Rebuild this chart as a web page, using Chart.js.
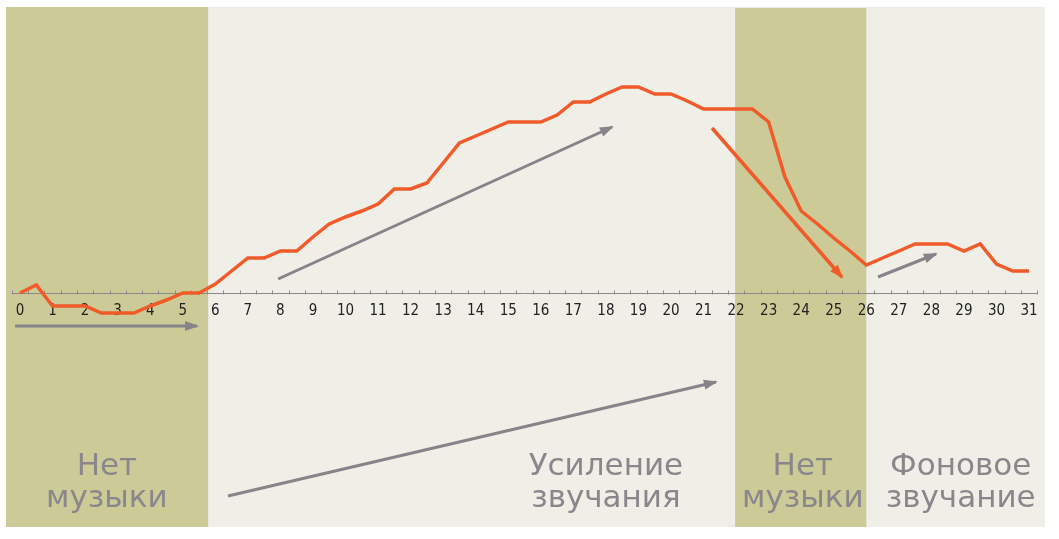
<!DOCTYPE html>
<html>
<head>
<meta charset="utf-8">
<script src="https://cdn.jsdelivr.net/npm/chart.js@4/dist/chart.umd.min.js"></script>
<style>
  html, body { margin: 0; padding: 0; background: #ffffff; }
  #wrap { width: 1059px; height: 539px; }
</style>
</head>
<body>
<div id="wrap"><canvas id="chart" width="1059" height="539"></canvas></div>
<script>
// Время (секунды) и уровень звучания
const timePoints = [0, 0.5, 1, 1.5, 2, 2.5, 3, 3.5, 4, 4.5, 5, 5.5, 6, 6.5, 7, 7.5, 8, 8.5, 9, 9.5,
    10, 10.5, 11, 11.5, 12, 12.5, 13, 13.5, 14, 14.5, 15, 15.5, 16, 16.5, 17, 17.5, 18, 18.5, 19, 19.5,
    20, 20.5, 21, 21.5, 22, 22.5, 23, 23.5, 24, 24.5, 25, 25.5, 26, 26.5, 27, 27.5, 28, 28.5, 29, 29.5,
    30, 30.5, 31];
const soundLevel = [0, 8, -13, -13, -13, -20, -20, -20, -13, -7, 0, 0, 9, 22, 35, 35, 42, 42, 56, 69,
    76, 82, 89, 104, 104, 110, 130, 150, 157, 164, 171, 171, 171, 178, 191, 191, 199, 206, 206, 199,
    199, 192, 184, 184, 184, 184, 171, 116, 82, 69, 55, 42, 28, 35, 42, 49, 49, 49, 42, 49,
    29, 22, 22];

// Подписи оси
const tickValues = [0, 1, 2, 3, 4, 5, 6, 7, 8, 9, 10, 11, 12, 13, 14, 15, 16, 17, 18, 19, 20,
    21, 22, 23, 24, 25, 26, 27, 28, 29, 30, 31];
const tickLabels = ['0', '1', '2', '3', '4', '5', '6', '7', '8', '9', '10', '11', '12', '13', '14', '15',
    '16', '17', '18', '19', '20', '21', '22', '23', '24', '25', '26', '27', '28', '29', '30', '31'];

// Участки без музыки (начало, конец)
const silentStart = [-0.43, 21.97];
const silentEnd = [5.78, 26];

// Подписи участков
const sectionNames = [['Нет', 'музыки'], ['Усиление', 'звучания'], ['Нет', 'музыки'], ['Фоновое', 'звучание']];
const sectionCenters = [2.67, 18.0, 24.05, 28.9];

// Стрелки: [x0, y0, x1, y1]
const grayArrows = [
    [-0.15, -33, 5.44, -33],
    [7.93, 14, 18.19, 166],
    [6.39, -203, 21.38, -89],
    [26.36, 16, 28.14, 39]
];
const orangeArrow = [21.26, 165, 25.25, 16];

const ORANGE = '#f15a29';
const GRAY = '#868489';
const TEXT_GRAY = '#8a878c';

function arrowDataset(a, color, width) {
    return {
        data: [{ x: a[0], y: a[1] }, { x: a[2], y: a[3] }],
        borderColor: color,
        borderWidth: width,
        pointRadius: 0,
        tension: 0,
        isArrow: true
    };
}

const datasets = [{
    data: timePoints.map((t, i) => ({ x: t, y: soundLevel[i] })),
    borderColor: ORANGE,
    borderWidth: 3.5,
    pointRadius: 0,
    tension: 0,
    borderJoinStyle: 'miter'
}];
grayArrows.forEach(a => datasets.push(arrowDataset(a, GRAY, 3)));
datasets.push(arrowDataset(orangeArrow, ORANGE, 3.5));

// Фон, полосы, ось
const backgroundPlugin = {
    id: 'backgroundPlugin',
    beforeDatasetsDraw(chart) {
        const ctx = chart.ctx;
        const area = chart.chartArea;
        const x = chart.scales.x;
        const y = chart.scales.y;
        ctx.save();
        ctx.fillStyle = '#efeee7';
        ctx.fillRect(area.left, area.top, area.right - area.left, area.bottom - area.top);
        ctx.fillStyle = '#cccb98';
        for (let i = 0; i < silentStart.length; i++) {
            const x0 = x.getPixelForValue(silentStart[i]);
            const x1 = x.getPixelForValue(silentEnd[i]);
            const top = i === 0 ? area.top : area.top + 1;
            ctx.fillRect(x0, top, x1 - x0, area.bottom - top);
        }

        // Ось времени
        const y0 = Math.round(y.getPixelForValue(0)) + 0.5;
        ctx.strokeStyle = '#8c8a8a';
        ctx.lineWidth = 1;
        ctx.beginPath();
        ctx.moveTo(x.getPixelForValue(-0.25), y0);
        ctx.lineTo(x.getPixelForValue(31.25), y0);
        for (let k = 0; k <= 63; k++) {
            const px = Math.round(x.getPixelForValue(-0.25 + k * 0.5)) + 0.5;
            ctx.moveTo(px, y0 - 3);
            ctx.lineTo(px, y0 + 1);
        }
        ctx.stroke();

        ctx.fillStyle = '#222222';
        ctx.font = '15px "DejaVu Sans Condensed", "DejaVu Sans", sans-serif';
        ctx.textAlign = 'center';
        ctx.textBaseline = 'middle';
        tickValues.forEach((v, i) => {
            ctx.fillText(tickLabels[i], x.getPixelForValue(v), y0 + 18);
        });
        ctx.restore();
    },
    afterDatasetsDraw(chart) {
        const ctx = chart.ctx;
        const x = chart.scales.x;
        const y = chart.scales.y;
        ctx.save();
        // Наконечники стрелок
        chart.data.datasets.forEach((ds, i) => {
            if (!ds.isArrow) return;
            const pts = chart.getDatasetMeta(i).data;
            const p0 = pts[0], p1 = pts[1];
            const ang = Math.atan2(p1.y - p0.y, p1.x - p0.x);
            const len = 12, half = 5;
            ctx.fillStyle = ds.borderColor;
            ctx.beginPath();
            ctx.moveTo(p1.x + Math.cos(ang) * 2, p1.y + Math.sin(ang) * 2);
            ctx.lineTo(p1.x - Math.cos(ang) * len - Math.sin(ang) * half, p1.y - Math.sin(ang) * len + Math.cos(ang) * half);
            ctx.lineTo(p1.x - Math.cos(ang) * len + Math.sin(ang) * half, p1.y - Math.sin(ang) * len - Math.cos(ang) * half);
            ctx.closePath();
            ctx.fill();
        });

        // Подписи участков
        ctx.fillStyle = TEXT_GRAY;
        ctx.font = '31px "DejaVu Sans", sans-serif';
        ctx.textAlign = 'center';
        ctx.textBaseline = 'alphabetic';
        sectionNames.forEach((lines, i) => {
            const cx = x.getPixelForValue(sectionCenters[i]);
            ctx.fillText(lines[0], cx, y.getPixelForValue(-182));
            ctx.fillText(lines[1], cx, y.getPixelForValue(-214));
        });
        ctx.restore();
    }
};

new Chart(document.getElementById('chart'), {
    type: 'line',
    data: { datasets: datasets },
    options: {
        responsive: false,
        animation: false,
        layout: { padding: { left: 6, right: 14, top: 7, bottom: 12 } },
        plugins: {
            legend: { display: false },
            tooltip: { enabled: false }
        },
        scales: {
            x: { type: 'linear', min: -0.43, max: 31.49, display: false },
            y: { type: 'linear', min: -234, max: 286, display: false }
        }
    },
    plugins: [backgroundPlugin]
});
</script>
</body>
</html>
